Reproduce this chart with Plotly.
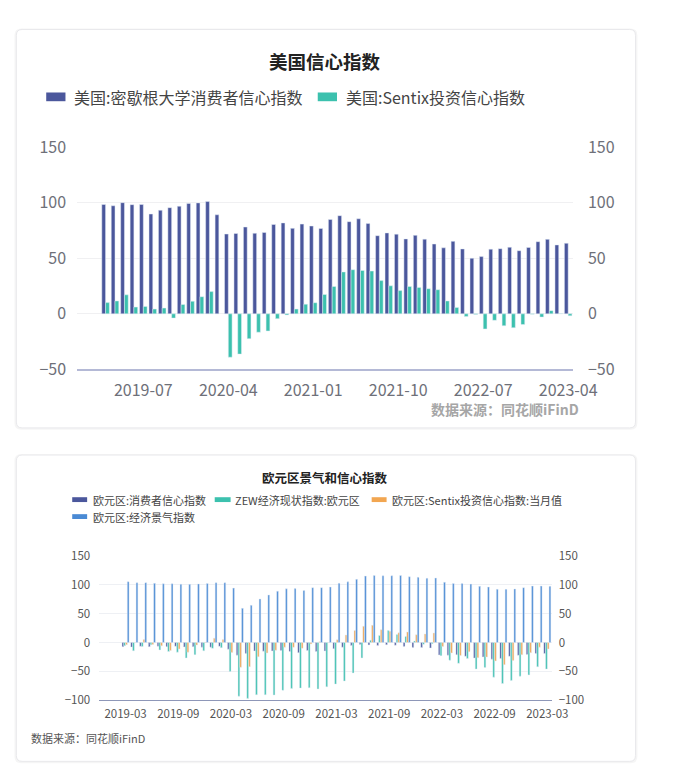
import plotly.graph_objects as go

W, H = 673, 784

# ---------------- data ----------------
months = [
    "2019-03", "2019-04", "2019-05", "2019-06", "2019-07", "2019-08", "2019-09", "2019-10", "2019-11", "2019-12",
    "2020-01", "2020-02", "2020-03", "2020-04", "2020-05", "2020-06", "2020-07", "2020-08", "2020-09", "2020-10",
    "2020-11", "2020-12", "2021-01", "2021-02", "2021-03", "2021-04", "2021-05", "2021-06", "2021-07", "2021-08",
    "2021-09", "2021-10", "2021-11", "2021-12", "2022-01", "2022-02", "2022-03", "2022-04", "2022-05", "2022-06",
    "2022-07", "2022-08", "2022-09", "2022-10", "2022-11", "2022-12", "2023-01", "2023-02", "2023-03", "2023-04",
]

us_michigan = [
    98.4, 97.2, 100.0, 98.2, 98.4, 89.8, 93.2, 95.5, 96.8, 99.3,
    99.8, 101.0, 89.1, 71.8, 72.3, 78.1, 72.5, 73.2, 80.4, 81.8,
    76.9, 80.7, 79.0, 76.8, 84.9, 88.3, 82.9, 85.5, 81.2, 70.3,
    72.8, 71.7, 67.4, 70.6, 67.2, 62.8, 59.4, 65.2, 58.4, 50.0,
    51.5, 58.2, 58.6, 59.9, 56.8, 59.7, 64.9, 67.0, 62.0, 63.5,
]
us_sentix = [
    10.1, 11.6, 17.1, 6.1, 6.7, 4.3, 5.2, -3.8, 8.4, 11.3,
    15.4, 20.0, None, -39.0, -36.2, -22.3, -16.5, -15.4, -4.3, -1.0,
    4.3, 8.7, 10.0, 17.4, 24.6, 37.7, 39.7, 39.0, 38.5, 29.9,
    25.2, 20.9, 24.6, 23.8, 22.6, 21.7, 11.6, 5.8, -2.3, -0.5,
    -13.6, -5.8, -10.7, -12.5, -9.6, -0.3, -2.9, 2.9, 0.3, -1.7,
]
us_ticks = ["2019-07", "2020-04", "2021-01", "2021-10", "2022-07", "2023-04"]

eu_months = months[:49]
eu_consumer = [
    -7.2, -7.9, -6.5, -7.2, -6.6, -7.1, -6.5, -7.6, -7.2, -8.1,
    -8.1, -6.6, -11.6, -22.0, -18.8, -14.7, -15.0, -14.7, -13.9, -15.5,
    -17.6, -13.9, -15.5, -14.8, -10.8, -8.1, -5.1, -3.3, -4.4, -5.3,
    -4.0, -4.8, -6.8, -8.4, -8.5, -9.5, -21.6, -22.0, -21.2, -23.8,
    -27.0, -24.9, -28.8, -27.5, -23.9, -22.2, -20.7, -19.1, -19.2,
]
eu_zew = [
    -5.5, -14.4, -7.0, -4.0, -12.8, -15.6, -16.7, -26.7, -21.0, -14.4,
    -10.0, -9.0, -50.0, -93.0, -96.7, -90.5, -90.5, -91.0, -82.8, -79.4,
    -78.9, -78.3, -80.5, -76.7, -72.0, -66.7, -52.8, -26.7, 4.0, 12.2,
    20.6, 13.9, 10.6, 2.6, -3.0, -2.0, -22.8, -30.6, -36.0, -27.8,
    -46.0, -43.3, -60.0, -71.0, -65.6, -58.3, -56.0, -42.0, -46.0,
]
eu_sentix = [
    -3.7, -0.3, 5.3, -3.3, -5.8, -13.7, -11.1, -16.8, -4.5, 0.7,
    7.6, 5.2, -17.1, -42.9, -41.8, -24.8, -18.2, -13.4, -8.0, -8.3,
    -10.0, -2.7, 1.3, -0.2, 5.0, 13.1, 21.0, 28.1, 29.8, 22.2,
    19.6, 16.9, 18.3, 13.5, 14.9, 16.6, -7.0, -18.0, -22.6, -15.8,
    -26.4, -25.2, -31.8, -38.3, -30.9, -21.0, -17.5, -8.0, -11.1,
]
eu_esi = [
    105.3, 103.5, 103.6, 102.4, 101.7, 101.8, 101.0, 100.7, 101.5, 102.2,
    103.5, 103.5, 94.2, 59.2, 64.4, 75.5, 82.4, 88.9, 93.0, 93.3,
    90.0, 95.0, 95.0, 96.1, 102.5, 105.0, 109.4, 115.0, 116.1, 115.6,
    115.6, 116.1, 113.9, 112.8, 111.1, 111.7, 104.4, 102.2, 102.2, 101.1,
    97.2, 96.1, 92.2, 92.0, 92.8, 95.0, 97.8, 97.8, 97.2,
]
eu_ticks = ["2019-03", "2019-09", "2020-03", "2020-09", "2021-03", "2021-09", "2022-03", "2022-09", "2023-03"]

us_names = ["美国:密歇根大学消费者信心指数", "美国:Sentix投资信心指数"]
eu_names = ["欧元区:消费者信心指数", "ZEW经济现状指数:欧元区", "欧元区:Sentix投资信心指数:当月值", "欧元区:经济景气指数"]

# ---------------- styles ----------------
NAVY = "#4b579c"
TEAL = "#3cc1ae"
ORANGE = "#f2a651"
BLUE = "#4a8ad4"
FONT = "Noto Sans CJK SC, Microsoft YaHei, sans-serif"


def px(x):
    return x / W


def py(y):
    return 1 - y / H


def rounded_rect(x0, y0, x1, y1, r):
    X0, X1 = px(x0), px(x1)
    Y0, Y1 = py(y0), py(y1)
    rx, ry = r / W, r / H
    return (f"M {X0+rx},{Y0} L {X1-rx},{Y0} Q {X1},{Y0} {X1},{Y0-ry} "
            f"L {X1},{Y1+ry} Q {X1},{Y1} {X1-rx},{Y1} L {X0+rx},{Y1} "
            f"Q {X0},{Y1} {X0},{Y1+ry} L {X0},{Y0-ry} Q {X0},{Y0} {X0+rx},{Y0} Z")


fig = go.Figure()

# top chart
fig.add_trace(go.Bar(x=months, y=us_michigan, name=us_names[0], marker_color=NAVY,
                     xaxis="x", yaxis="y", showlegend=False))
fig.add_trace(go.Bar(x=months, y=us_sentix, name=us_names[1], marker_color=TEAL,
                     xaxis="x", yaxis="y", showlegend=False))
fig.add_trace(go.Scatter(x=months[:1], y=[0], mode="markers", marker=dict(opacity=0),
                         xaxis="x", yaxis="y2", showlegend=False, hoverinfo="skip"))

# bottom chart
for vals, nm, col in zip([eu_consumer, eu_zew, eu_sentix, eu_esi], eu_names, [NAVY, TEAL, ORANGE, BLUE]):
    fig.add_trace(go.Bar(x=eu_months, y=vals, name=nm, marker_color=col,
                         xaxis="x3", yaxis="y3", showlegend=False))
fig.add_trace(go.Scatter(x=eu_months[:1], y=[0], mode="markers", marker=dict(opacity=0),
                         xaxis="x3", yaxis="y4", showlegend=False, hoverinfo="skip"))

top_dom_x = [px(80), px(595)]
top_dom_y = [py(367.7), py(138.3)]
bot_dom_x = [px(103), px(573)]
bot_dom_y = [py(709), py(560)]

tick_top = dict(size=16, color="#6e7079", family=FONT)
tick_bot = dict(size=11.5, color="#555555", family=FONT)

shapes = [
    # card shadows + cards
    dict(type="path", path=rounded_rect(15, 16, 662, 430, 7), xref="paper", yref="paper",
         fillcolor="rgba(0,0,0,0.04)", line=dict(width=0), layer="below"),
    dict(type="path", path=rounded_rect(17, 17, 660, 428, 6), xref="paper", yref="paper",
         fillcolor="white", line=dict(color="#e9e9ec", width=1), layer="below"),
    dict(type="path", path=rounded_rect(15, 455, 662, 774, 7), xref="paper", yref="paper",
         fillcolor="rgba(0,0,0,0.04)", line=dict(width=0), layer="below"),
    dict(type="path", path=rounded_rect(17, 456, 660, 772, 6), xref="paper", yref="paper",
         fillcolor="white", line=dict(color="#e9e9ec", width=1), layer="below"),
    # top legend markers
    dict(type="rect", xref="paper", yref="paper", x0=px(48), x1=px(68), y0=py(91), y1=py(82),
         fillcolor=NAVY, line=dict(width=0)),
    dict(type="rect", xref="paper", yref="paper", x0=px(330), x1=px(350), y0=py(91), y1=py(82),
         fillcolor=TEAL, line=dict(width=0)),
    # bottom legend markers
    dict(type="rect", xref="paper", yref="paper", x0=px(75), x1=px(90.5), y0=py(504.5), y1=py(499.5),
         fillcolor=NAVY, line=dict(width=0)),
    dict(type="rect", xref="paper", yref="paper", x0=px(223), x1=px(239.5), y0=py(504.5), y1=py(499.5),
         fillcolor=TEAL, line=dict(width=0)),
    dict(type="rect", xref="paper", yref="paper", x0=px(386), x1=px(401.5), y0=py(504.5), y1=py(499.5),
         fillcolor=ORANGE, line=dict(width=0)),
    dict(type="rect", xref="paper", yref="paper", x0=px(75), x1=px(90.5), y0=py(522), y1=py(517),
         fillcolor=BLUE, line=dict(width=0)),
]

annotations = [
    dict(text="<b>美国信心指数</b>", x=px(338), y=py(50), xref="paper", yref="paper", showarrow=False,
         xanchor="center", yanchor="middle", font=dict(size=18.5, color="#222222", family=FONT)),
    dict(text=us_names[0], x=px(75), y=py(86.5), xref="paper", yref="paper", showarrow=False,
         xanchor="left", yanchor="middle", font=dict(size=16, color="#444444", family=FONT)),
    dict(text=us_names[1], x=px(357), y=py(86.5), xref="paper", yref="paper", showarrow=False,
         xanchor="left", yanchor="middle", font=dict(size=16, color="#444444", family=FONT)),
    dict(text="<b>数据来源：同花顺iFinD</b>", x=px(603), y=py(409), xref="paper", yref="paper", showarrow=False,
         xanchor="right", yanchor="middle", font=dict(size=14, color="#a6a6a6", family=FONT)),
    dict(text="<b>欧元区景气和信心指数</b>", x=px(338), y=py(479), xref="paper", yref="paper", showarrow=False,
         xanchor="center", yanchor="middle", font=dict(size=12.5, color="#222222", family=FONT)),
    dict(text=eu_names[0], x=px(94), y=py(502), xref="paper", yref="paper", showarrow=False,
         xanchor="left", yanchor="middle", font=dict(size=11, color="#444444", family=FONT)),
    dict(text=eu_names[1], x=px(242.5), y=py(502), xref="paper", yref="paper", showarrow=False,
         xanchor="left", yanchor="middle", font=dict(size=11, color="#444444", family=FONT)),
    dict(text=eu_names[2], x=px(405), y=py(502), xref="paper", yref="paper", showarrow=False,
         xanchor="left", yanchor="middle", font=dict(size=11, color="#444444", family=FONT)),
    dict(text=eu_names[3], x=px(94), y=py(519.5), xref="paper", yref="paper", showarrow=False,
         xanchor="left", yanchor="middle", font=dict(size=11, color="#444444", family=FONT)),
    dict(text="数据来源：同花顺iFinD", x=px(30), y=py(748), xref="paper", yref="paper", showarrow=False,
         xanchor="left", yanchor="middle", font=dict(size=11, color="#555555", family=FONT)),
]

fig.update_layout(
    width=W, height=H,
    margin=dict(l=0, r=0, t=0, b=0),
    paper_bgcolor="white", plot_bgcolor="rgba(0,0,0,0)",
    barmode="group", bargap=0.2, bargroupgap=0,
    font=dict(family=FONT),
    showlegend=False,
    shapes=shapes,
    annotations=annotations,
    xaxis=dict(domain=top_dom_x, anchor="y", type="category", categoryorder="array", categoryarray=months,
               tickmode="array", tickvals=us_ticks, ticktext=us_ticks, ticks="", showgrid=False,
               showline=True, linecolor="#b4b9d6", linewidth=2, tickfont=tick_top,
               ticklabelstandoff=5, fixedrange=True),
    yaxis=dict(domain=top_dom_y, anchor="x", range=[-50, 150], tickvals=[-50, 0, 50, 100, 150],
               showgrid=True, gridcolor="#f0f0f2", gridwidth=1, zeroline=False, showline=False,
               tickfont=tick_top, ticklabelstandoff=10, fixedrange=True),
    yaxis2=dict(overlaying="y", anchor="x", side="right", range=[-50, 150], tickvals=[-50, 0, 50, 100, 150],
                showgrid=False, zeroline=False, showline=False, tickfont=tick_top, ticklabelstandoff=14,
                fixedrange=True),
    xaxis3=dict(domain=bot_dom_x, anchor="y3", type="category", categoryorder="array", categoryarray=eu_months,
                tickmode="array", tickvals=eu_ticks, ticktext=eu_ticks, ticks="", showgrid=False,
                showline=True, linecolor="#8e97b8", linewidth=1, tickfont=tick_bot,
                ticklabelstandoff=3, fixedrange=True),
    yaxis3=dict(domain=bot_dom_y, anchor="x3", range=[-100, 150], tickvals=[-100, -50, 0, 50, 100, 150],
                showgrid=True, gridcolor="#eef0f4", gridwidth=1, zeroline=False, showline=False,
                tickfont=tick_bot, ticklabelstandoff=8, fixedrange=True),
    yaxis4=dict(overlaying="y3", anchor="x3", side="right", range=[-100, 150],
                tickvals=[-100, -50, 0, 50, 100, 150], showgrid=False, zeroline=False, showline=False,
                tickfont=tick_bot, ticklabelstandoff=6, fixedrange=True),
)

fig.write_html(
    "out.html",
    config={"displayModeBar": False},
    post_script="document.body.style.margin='0';document.body.style.padding='0';",
)
